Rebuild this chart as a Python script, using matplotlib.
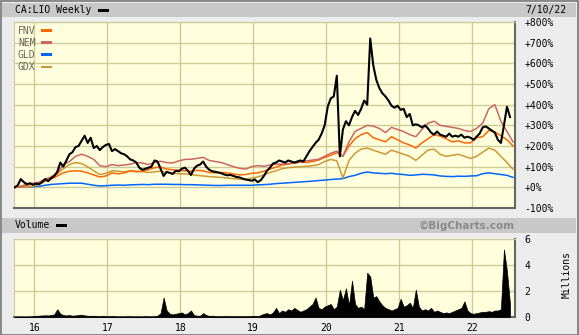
import numpy as np
import matplotlib
matplotlib.use("Agg")
import matplotlib.pyplot as plt
from matplotlib.patches import Rectangle

# ---------------- data ----------------
title = "CA:LIO Weekly"
date_label = "7/10/22"
year_ticks = [2016, 2017, 2018, 2019, 2020, 2021, 2022]
year_labels = ["16", "17", "18", "19", "20", "21", "22"]
pct_ticks = [-100, 0, 100, 200, 300, 400, 500, 600, 700, 800]
pct_labels = ["-100%", "+0%", "+100%", "+200%", "+300%", "+400%",
              "+500%", "+600%", "+700%", "+800%"]
vol_ticks = [0, 2, 4, 6]
vol_labels = ["0", "2", "4", "6"]

start_year = 2015.73

# LIO % change, semimonthly
lio = [0, 10, 40, 25, 15, 20, 12, 18, 15, 25, 40, 30, 45, 55, 75, 120, 100, 130,
       160, 170, 195, 200, 225, 250, 215, 240, 190, 200, 180, 195, 205, 210, 175,
       185, 175, 165, 160, 150, 135, 130, 120, 95, 85, 90, 95, 100, 130, 125, 90,
       55, 75, 70, 65, 80, 78, 90, 95, 80, 60, 90, 105, 110, 125, 100, 85, 78, 75,
       72, 68, 62, 58, 60, 55, 50, 48, 42, 38, 35, 32, 38, 25, 35, 55, 80, 95, 115,
       120, 130, 125, 120, 130, 125, 120, 125, 130, 125, 150, 175, 195, 215, 230,
       260, 300, 390, 430, 440, 540, 150, 280, 320, 300, 340, 370, 350, 380, 420,
       400, 720, 590, 520, 480, 455, 440, 420, 395, 385, 395, 375, 380, 340, 355,
       300, 305, 300, 290, 300, 285, 265, 255, 270, 255, 250, 245, 260, 245, 250,
       245, 255, 240, 245, 240, 230, 245, 260, 290, 295, 285, 275, 265, 230, 215,
       300, 390, 340]

# Volume (millions), semimonthly
volume = [0.02, 0.03, 0.02, 0.02, 0.02, 0.03, 0.05, 0.08, 0.1, 0.12, 0.13, 0.12,
          0.15, 0.2, 0.6, 0.25, 0.15, 0.12, 0.15, 0.1, 0.12, 0.15, 0.18, 0.12, 0.1,
          0.08, 0.1, 0.06, 0.05, 0.08, 0.05, 0.05, 0.06, 0.05, 0.03, 0.04, 0.03,
          0.05, 0.04, 0.03, 0.04, 0.03, 0.03, 0.05, 0.04, 0.03, 0.05, 0.1, 0.3, 1.5,
          0.5, 0.25, 0.2, 0.25, 0.3, 0.35, 0.2, 0.3, 0.5, 0.15, 0.1, 0.1, 0.3, 0.15,
          0.08, 0.1, 0.05, 0.05, 0.04, 0.06, 0.05, 0.05, 0.05, 0.05, 0.05, 0.05,
          0.05, 0.05, 0.06, 0.08, 0.05, 0.15, 0.25, 0.3, 0.2, 0.35, 0.7, 0.3, 0.5,
          0.4, 0.6, 0.5, 0.7, 0.55, 0.4, 0.5, 0.6, 0.8, 1.0, 1.5, 0.7, 0.6, 0.8,
          0.9, 1.0, 0.6, 0.8, 2.1, 1.3, 2.2, 0.9, 2.8, 1.0, 0.7, 0.8, 0.6, 3.4, 3.1,
          1.5, 1.6, 1.2, 0.9, 0.7, 0.6, 0.5, 0.6, 0.7, 1.4, 0.8, 0.9, 1.1, 0.7, 2.1,
          0.8, 0.5, 0.6, 0.5, 0.7, 0.4, 0.5, 0.4, 0.3, 0.35, 0.3, 0.4, 0.5, 0.6, 0.7,
          1.2, 0.5, 0.3, 0.25, 0.3, 0.35, 0.4, 0.4, 0.45, 0.4, 0.5, 0.5, 0.6, 5.2,
          3.5, 1.0]

# Comparison series (% change), monthly
fnv = [0, 5, 10, 15, 20, 30, 40, 55, 70, 78, 80, 78, 70, 60, 50, 55, 70, 65, 70,
       80, 75, 78, 85, 95, 98, 88, 85, 82, 80, 78, 82, 80, 72, 70, 72, 70, 65, 60,
       62, 68, 70, 78, 88, 98, 108, 112, 118, 122, 120, 125, 132, 145, 155, 168,
       150, 200, 235, 255, 265, 240, 230, 220, 245, 230, 215, 205, 190, 215, 235,
       255, 248, 235, 220, 225, 215, 215, 240, 245, 275, 268, 250, 230, 200]
nem = [0, 5, 15, 20, 25, 40, 50, 70, 110, 125, 150, 160, 150, 135, 105, 100, 110,
       105, 108, 112, 120, 118, 110, 120, 126, 120, 118, 128, 135, 136, 140, 145,
       130, 125, 120, 110, 100, 92, 88, 100, 105, 102, 108, 112, 112, 115, 118, 121,
       128, 132, 136, 150, 165, 175, 150, 220, 270, 285, 300, 296, 285, 265, 290,
       280, 270, 255, 245, 280, 310, 320, 300, 295, 290, 285, 275, 270, 285, 310,
       380, 400, 320, 270, 220]
gld = [0, 2, 0, 3, 5, 10, 14, 16, 18, 20, 20, 20, 15, 10, 7, 8, 10, 11, 10, 12, 13,
       14, 13, 15, 15, 15, 14, 14, 13, 13, 12, 11, 10, 9, 9, 10, 10, 10, 10, 10, 12,
       13, 15, 18, 20, 22, 24, 26, 28, 30, 33, 35, 38, 40, 42, 52, 58, 68, 74, 70,
       68, 66, 68, 64, 62, 58, 60, 63, 62, 60, 55, 53, 52, 54, 53, 55, 56, 66, 70,
       66, 62, 58, 48]
gdx = [0, 3, 0, 5, 15, 30, 45, 65, 90, 110, 120, 115, 100, 80, 62, 68, 80, 78, 75,
       80, 78, 76, 72, 75, 78, 72, 68, 66, 65, 62, 58, 55, 52, 50, 48, 45, 42, 40,
       38, 45, 50, 60, 72, 80, 90, 95, 98, 100, 102, 105, 110, 125, 135, 128, 45,
       130, 165, 185, 190, 180, 170, 160, 180, 170, 160, 150, 130, 155, 180, 185,
       160, 150, 155, 160, 150, 140, 150, 170, 190, 180, 150, 120, 87]

series_names = ["FNV", "NEM", "GLD", "GDX"]
series_colors = ["#ff6600", "#cc6666", "#0066ff", "#cc9933"]

# ---------------- drawing ----------------
W, H = 579, 335
fig = plt.figure(figsize=(W / 100, H / 100), dpi=100)
fig.patch.set_facecolor("#ececec")

def fx(px):
    return px / W

def fy(py):
    return 1 - py / H

mono = "DejaVu Sans Mono"
GRID = "#cccc99"
BG = "#ffffdd"

# header bars
fig.add_artist(Rectangle((fx(2), fy(17)), fx(574), 14 / H, transform=fig.transFigure,
                         facecolor="#c8c8c8", edgecolor="none"))
fig.add_artist(Rectangle((fx(2), fy(233)), fx(574), 15 / H, transform=fig.transFigure,
                         facecolor="#c8c8c8", edgecolor="none"))
fig.add_artist(Rectangle((0.5 / W, 0.5 / H), 1 - 1.5 / W, 1 - 1.5 / H,
                         transform=fig.transFigure, facecolor="none",
                         edgecolor="#777777", linewidth=1.2))

fig.text(fx(15), fy(10), title, fontsize=7, family=mono, va="center", ha="left")
fig.add_artist(Rectangle((fx(98), fy(11.5)), fx(11), 3 / H, transform=fig.transFigure,
                         facecolor="black", edgecolor="none"))
fig.text(fx(566), fy(9.5), date_label, fontsize=7, family=mono, va="center", ha="right")

fig.text(fx(15), fy(225.5), "Volume", fontsize=7, family=mono, va="center", ha="left")
fig.add_artist(Rectangle((fx(56), fy(227)), fx(11), 3 / H, transform=fig.transFigure,
                         facecolor="black", edgecolor="none"))
fig.text(fx(515), fy(225.5), "\u00a9BigCharts.com", fontsize=7.5, family="DejaVu Sans",
         weight="bold", color="#8a8a8a", va="center", ha="right")

# main axes
ax = fig.add_axes([fx(14), fy(208), fx(501), (208 - 22) / H])
ax.set_facecolor(BG)
t_semi = start_year + np.arange(len(lio)) / 24.0
t_mon = start_year + np.arange(len(fnv)) / 12.0

for vals, c in zip([gld, gdx, fnv, nem], ["#0066ff", "#cc9933", "#ff6600", "#cc6666"]):
    ax.plot(t_mon, vals, color=c, linewidth=1.1, zorder=3)
ax.plot(t_semi, lio, color="black", linewidth=1.5, zorder=4)

ax.set_xlim(2015.72, 2022.59)
ax.set_ylim(-100, 800)
ax.set_xticks(year_ticks)
ax.set_xticklabels([])
ax.set_yticks(pct_ticks)
ax.set_yticklabels(pct_labels, family=mono, fontsize=7)
ax.yaxis.tick_right()
ax.tick_params(axis="both", length=0)
ax.tick_params(axis="y", pad=7)
ax.grid(True, color=GRID, linewidth=1.0, zorder=0)
ax.set_axisbelow(True)
for s in ["top", "left"]:
    ax.spines[s].set_color(GRID)
for s in ["bottom", "right"]:
    ax.spines[s].set_color("#666666")
    ax.spines[s].set_linewidth(1.5)

# legend
for k, (nm, c) in enumerate(zip(series_names, series_colors)):
    y = 31 + k * 12
    fig.text(fx(18), fy(y), nm, fontsize=7, family=mono, color="#666666",
             va="center", ha="left")
    fig.add_artist(Rectangle((fx(41), fy(y + 1)), fx(11), 2.5 / H,
                             transform=fig.transFigure, facecolor=c, edgecolor="none"))

# volume axes
axv = fig.add_axes([fx(14), fy(317), fx(501), (317 - 239) / H])
axv.set_facecolor(BG)
axv.fill_between(t_semi, volume, 0, color="black", linewidth=0.5,
                 edgecolor="black", zorder=3)
axv.set_xlim(2015.72, 2022.59)
axv.set_ylim(0, 6)
axv.set_xticks(year_ticks)
axv.set_xticklabels(year_labels, family=mono, fontsize=7)
axv.set_yticks(vol_ticks)
axv.set_yticklabels(vol_labels, family=mono, fontsize=7)
axv.yaxis.tick_right()
axv.tick_params(axis="both", length=0)
axv.tick_params(axis="y", pad=7)
axv.tick_params(axis="x", pad=4)
axv.grid(True, color=GRID, linewidth=1.0, zorder=0)
axv.set_axisbelow(True)
for s in ["top", "left"]:
    axv.spines[s].set_color(GRID)
for s in ["bottom", "right"]:
    axv.spines[s].set_color("#666666")
    axv.spines[s].set_linewidth(1.5)

fig.text(fx(567), fy(275), "Millions", fontsize=7, family=mono, rotation=90,
         va="center", ha="center")

fig.savefig("out.png", dpi=100, facecolor=fig.get_facecolor())
